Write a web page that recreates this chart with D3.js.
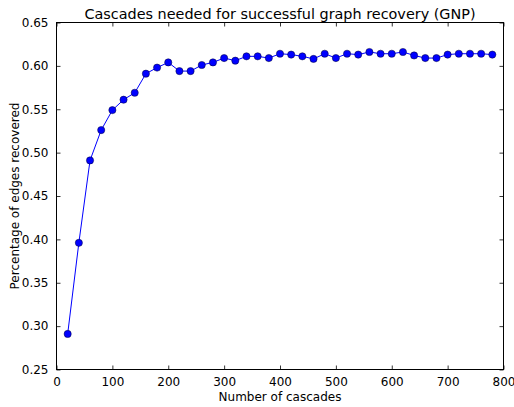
<!DOCTYPE html>
<html><head><meta charset="utf-8">
<script src="https://cdn.jsdelivr.net/npm/d3@7"></script>
<style>body{margin:0;background:#fff}svg{display:block}text{font-family:"DejaVu Sans",sans-serif;fill:#000}</style>
</head><body>
<script>
const cascades = [20,40,60,80,100,120,140,160,180,200,220,240,260,280,300,320,340,360,380,400,420,440,460,480,500,520,540,560,580,600,620,640,660,680,700,720,740,760,780];
const recovered = [0.291,0.396,0.491,0.526,0.549,0.561,0.569,0.591,0.598,0.604,0.594,0.594,0.601,0.604,0.609,0.606,0.611,0.611,0.609,0.614,0.613,0.611,0.608,0.614,0.609,0.614,0.613,0.616,0.614,0.614,0.616,0.612,0.609,0.609,0.613,0.614,0.614,0.614,0.613];
const xTicks = [0,100,200,300,400,500,600,700,800];
const yTicks = [0.25,0.30,0.35,0.40,0.45,0.50,0.55,0.60,0.65];
const title = "Cascades needed for successful graph recovery (GNP)";
const xLabel = "Number of cascades";
const yLabel = "Percentage of edges recovered";

const W=514,H=407, L=56.5, R=503.5, T=22.5, B=369.5;
const svg=d3.select("body").append("svg").attr("width",W).attr("height",H);
const x=d3.scaleLinear().domain([0,800]).range([L,R]);
const y=d3.scaleLinear().domain([0.25,0.65]).range([B,T]);

const fmtY=d3.format(".2f");
const gB=svg.append("g").attr("transform",`translate(0,${B})`).call(d3.axisBottom(x).tickValues(xTicks).tickSize(-4).tickPadding(8).tickFormat(d3.format("d")));
const gTop=svg.append("g").attr("transform",`translate(0,${T})`).call(d3.axisTop(x).tickValues(xTicks).tickSize(-4).tickFormat(""));
const gLeft=svg.append("g").attr("transform",`translate(${L},0)`).call(d3.axisLeft(y).tickValues(yTicks).tickSize(-4).tickPadding(8).tickFormat(fmtY));
const gRight=svg.append("g").attr("transform",`translate(${R},0)`).call(d3.axisRight(y).tickValues(yTicks).tickSize(-4).tickFormat(""));
[gB,gTop,gLeft,gRight].forEach(g=>{
  g.select(".domain").remove();
  g.selectAll("line").attr("stroke","#000").attr("stroke-width",0.8);
  g.selectAll("text").attr("font-size",12).attr("font-family","DejaVu Sans");
});
svg.append("rect").attr("x",L).attr("y",T).attr("width",R-L).attr("height",B-T).attr("fill","none").attr("stroke","#000").attr("stroke-width",1);

const line=d3.line().x((d,i)=>x(cascades[i])).y(d=>y(d));
svg.append("path").datum(recovered).attr("d",line).attr("fill","none").attr("stroke","#0000ff").attr("stroke-width",1);
svg.selectAll("circle.pt").data(recovered).join("circle").attr("class","pt")
  .attr("cx",(d,i)=>x(cascades[i])).attr("cy",d=>y(d)).attr("r",3.6)
  .attr("fill","#0000ff").attr("stroke","#000033").attr("stroke-width",0.5);

svg.append("text").attr("x",(L+R)/2).attr("y",19).attr("text-anchor","middle").attr("font-size",14.4).text(title);
svg.append("text").attr("x",(L+R)/2).attr("y",401).attr("text-anchor","middle").attr("font-size",12).text(xLabel);
svg.append("text").attr("transform",`translate(19,${(T+B)/2}) rotate(-90)`).attr("text-anchor","middle").attr("font-size",12).text(yLabel);
</script>
</body></html>
